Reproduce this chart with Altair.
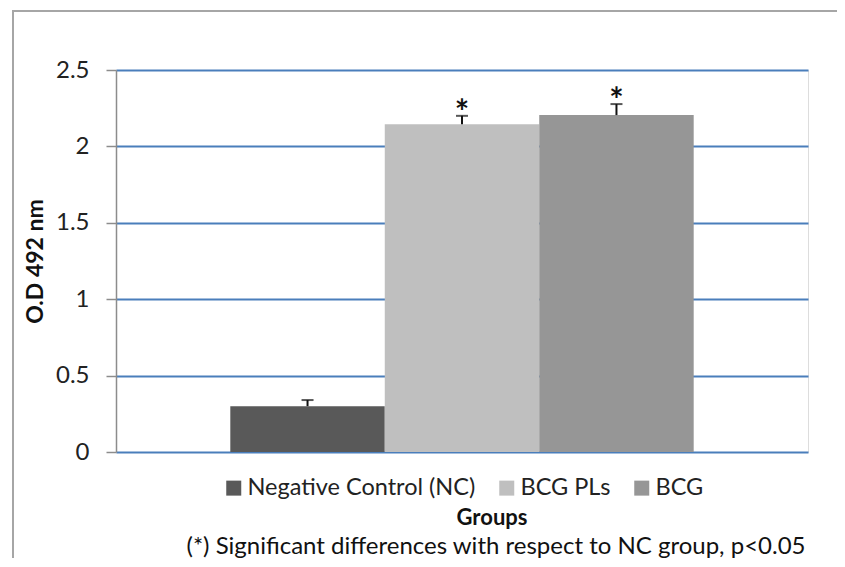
import altair as alt
import pandas as pd

groups = ["Negative Control (NC)", "BCG PLs", "BCG"]
values = [0.30, 2.145, 2.205]
errors = [0.04, 0.055, 0.072]
stars = ["", "*", "*"]
colors = ["#595959", "#bfbfbf", "#969696"]
y_ticks = [0, 0.5, 1, 1.5, 2, 2.5]

df = pd.DataFrame({
    "group": groups,
    "value": values,
    "err_top": [v + e for v, e in zip(values, errors)],
    "star": stars,
})

FONT = "Lato"
W, H = 692, 382

x_enc = alt.X("group:N", sort=groups, axis=None,
              scale=alt.Scale(paddingInner=0, paddingOuter=0.74))
y_scale = alt.Scale(domain=[0, 2.5], nice=False)

bars = alt.Chart(df).mark_bar().encode(
    x=x_enc,
    y=alt.Y("value:Q", scale=y_scale,
            axis=alt.Axis(values=y_ticks, format="~g", title="O.D 492 nm", grid=True,
                          gridColor="#4a7ebb", gridWidth=1.8,
                          domainColor="#8c8c8c", domainWidth=1.5,
                          tickColor="#8c8c8c", tickSize=10, tickWidth=1.5,
                          labelFont=FONT, labelFontSize=24, labelColor="#222222",
                          labelPadding=17,
                          titleFont=FONT, titleFontSize=23, titleFontWeight="bold",
                          titleColor="#111111", titlePadding=8)),
    color=alt.Color("group:N", sort=groups,
                    scale=alt.Scale(domain=groups, range=colors),
                    legend=alt.Legend(orient="none", legendX=106, legendY=406,
                                      direction="horizontal", title=None,
                                      symbolType="square", symbolSize=225,
                                      symbolStrokeWidth=0, labelFont=FONT,
                                      labelFontSize=23.5, labelColor="#222222",
                                      labelLimit=500,
                                      labelOffset=2, columnPadding=19)),
)

err_rule = alt.Chart(df).mark_rule(color="#111111", strokeWidth=2).encode(
    x=x_enc, y=alt.Y("value:Q", scale=y_scale), y2="err_top:Q")

err_cap = alt.Chart(df).mark_tick(color="#111111", thickness=2, size=12,
                                  orient="horizontal").encode(
    x=x_enc, y=alt.Y("err_top:Q", scale=y_scale))

star_txt = alt.Chart(df).mark_text(font=FONT, fontSize=34, fontWeight="bold",
                                   baseline="alphabetic", dy=8,
                                   color="#111111").encode(
    x=x_enc, y=alt.Y("err_top:Q", scale=y_scale), text="star:N")

notes = pd.DataFrame({
    "label": ["Groups", "(*) Significant differences with respect to NC group, p<0.05"],
})

groups_title = alt.Chart(notes.iloc[[0]]).mark_text(
    font=FONT, fontSize=22, fontWeight="bold", color="#111111").encode(
    x=alt.value(376), y=alt.value(448), text="label:N")

footnote = alt.Chart(notes.iloc[[1]]).mark_text(
    font=FONT, fontSize=24, color="#111111").encode(
    x=alt.value(380), y=alt.value(477), text="label:N")

frame = alt.Chart(notes.iloc[[0]]).mark_rect(
    filled=False, stroke="#a6a6a6", strokeWidth=2).encode(
    x=alt.value(-103), x2=alt.value(900), y=alt.value(-59), y2=alt.value(700))

chart = alt.layer(
    frame, bars, err_rule, err_cap, star_txt, groups_title, footnote
).properties(
    width=W, height=H,
    autosize=alt.AutoSizeParams(type="none"),
    padding={"left": 108, "top": 62, "right": 29, "bottom": 106},
).configure_view(stroke=None).configure(background="white")

chart.save("out.html", embed_options={"renderer": "svg", "actions": False})
